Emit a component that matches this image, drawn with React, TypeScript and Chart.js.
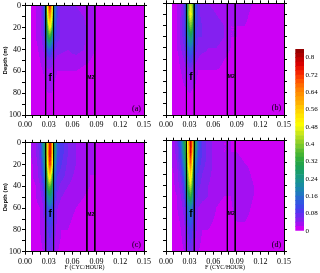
import React, { useEffect, useRef } from 'react';
import { Chart, registerables } from 'chart.js';
Chart.register(...registerables);

// ---------- data ----------
const FREQS = [0.0075, 0.014, 0.019, 0.023, 0.026, 0.029, 0.0315, 0.034, 0.037, 0.041, 0.046, 0.054, 0.064, 0.074, 0.082, 0.09, 0.1, 0.115, 0.13, 0.15];
const DEPTHS = [0, 10, 20, 30, 40, 50, 60, 80, 100];

const PANEL_A = [
  [0.015, 0.02, 0.03, 0.08, 0.22, 0.6, 0.8, 0.55, 0.2, 0.09, 0.05, 0.04, 0.04, 0.03, 0.025, 0.02, 0.015, 0.01, 0.01, 0.01],
  [0.015, 0.02, 0.03, 0.07, 0.2, 0.52, 0.64, 0.48, 0.18, 0.08, 0.05, 0.045, 0.05, 0.04, 0.03, 0.02, 0.015, 0.01, 0.01, 0.01],
  [0.01, 0.02, 0.03, 0.06, 0.16, 0.4, 0.5, 0.38, 0.14, 0.07, 0.055, 0.05, 0.06, 0.045, 0.03, 0.02, 0.015, 0.01, 0.01, 0.01],
  [0.01, 0.02, 0.03, 0.05, 0.12, 0.28, 0.32, 0.22, 0.1, 0.065, 0.055, 0.05, 0.06, 0.045, 0.03, 0.02, 0.015, 0.01, 0.01, 0.01],
  [0.01, 0.015, 0.025, 0.04, 0.07, 0.13, 0.14, 0.1, 0.065, 0.05, 0.045, 0.04, 0.05, 0.04, 0.025, 0.02, 0.01, 0.01, 0.01, 0.01],
  [0.01, 0.01, 0.02, 0.03, 0.04, 0.06, 0.06, 0.05, 0.04, 0.03, 0.03, 0.03, 0.03, 0.025, 0.02, 0.015, 0.01, 0.01, 0.01, 0.01],
  [0.01, 0.01, 0.015, 0.02, 0.03, 0.035, 0.035, 0.03, 0.025, 0.02, 0.02, 0.02, 0.02, 0.015, 0.015, 0.01, 0.01, 0.01, 0.01, 0.01],
  [0.01, 0.01, 0.01, 0.01, 0.015, 0.02, 0.02, 0.02, 0.015, 0.01, 0.01, 0.01, 0.01, 0.01, 0.01, 0.01, 0.01, 0.01, 0.01, 0.01],
  [0.01, 0.01, 0.01, 0.01, 0.01, 0.01, 0.01, 0.01, 0.01, 0.01, 0.01, 0.01, 0.01, 0.01, 0.01, 0.01, 0.01, 0.01, 0.01, 0.01],
];

const PANEL_B = [
  [0.015, 0.02, 0.03, 0.07, 0.18, 0.4, 0.46, 0.38, 0.15, 0.07, 0.05, 0.04, 0.03, 0.025, 0.02, 0.03, 0.03, 0.015, 0.01, 0.01],
  [0.015, 0.02, 0.04, 0.08, 0.18, 0.42, 0.5, 0.4, 0.15, 0.07, 0.05, 0.05, 0.04, 0.03, 0.02, 0.025, 0.025, 0.01, 0.01, 0.01],
  [0.01, 0.02, 0.05, 0.08, 0.15, 0.34, 0.4, 0.32, 0.12, 0.07, 0.06, 0.05, 0.05, 0.04, 0.02, 0.02, 0.02, 0.01, 0.01, 0.01],
  [0.01, 0.02, 0.05, 0.07, 0.12, 0.24, 0.28, 0.22, 0.1, 0.06, 0.06, 0.05, 0.05, 0.04, 0.02, 0.02, 0.015, 0.01, 0.01, 0.01],
  [0.01, 0.02, 0.04, 0.06, 0.09, 0.14, 0.16, 0.13, 0.08, 0.05, 0.05, 0.04, 0.04, 0.03, 0.02, 0.015, 0.01, 0.01, 0.01, 0.01],
  [0.01, 0.01, 0.03, 0.04, 0.06, 0.09, 0.1, 0.08, 0.05, 0.04, 0.03, 0.03, 0.03, 0.02, 0.015, 0.01, 0.01, 0.01, 0.01, 0.01],
  [0.01, 0.01, 0.02, 0.03, 0.04, 0.05, 0.05, 0.04, 0.03, 0.02, 0.02, 0.02, 0.02, 0.015, 0.01, 0.01, 0.01, 0.01, 0.01, 0.01],
  [0.01, 0.01, 0.01, 0.015, 0.015, 0.02, 0.02, 0.015, 0.015, 0.01, 0.01, 0.01, 0.01, 0.01, 0.01, 0.01, 0.01, 0.01, 0.01, 0.01],
  [0.01, 0.01, 0.01, 0.01, 0.01, 0.01, 0.01, 0.01, 0.01, 0.01, 0.01, 0.01, 0.01, 0.01, 0.01, 0.01, 0.01, 0.01, 0.01, 0.01],
];

const PANEL_C = [
  [0.02, 0.04, 0.08, 0.22, 0.35, 0.6, 0.8, 0.62, 0.3, 0.12, 0.09, 0.06, 0.04, 0.03, 0.025, 0.02, 0.015, 0.01, 0.01, 0.01],
  [0.02, 0.04, 0.07, 0.2, 0.32, 0.62, 0.8, 0.62, 0.28, 0.12, 0.09, 0.06, 0.04, 0.03, 0.025, 0.02, 0.015, 0.01, 0.01, 0.01],
  [0.015, 0.03, 0.06, 0.16, 0.28, 0.55, 0.76, 0.55, 0.22, 0.1, 0.08, 0.055, 0.04, 0.03, 0.025, 0.02, 0.015, 0.01, 0.01, 0.01],
  [0.015, 0.03, 0.05, 0.12, 0.22, 0.45, 0.56, 0.4, 0.16, 0.08, 0.07, 0.05, 0.035, 0.03, 0.02, 0.02, 0.015, 0.01, 0.01, 0.01],
  [0.01, 0.02, 0.04, 0.08, 0.16, 0.35, 0.38, 0.3, 0.13, 0.07, 0.05, 0.04, 0.03, 0.025, 0.02, 0.015, 0.01, 0.01, 0.01, 0.01],
  [0.01, 0.02, 0.03, 0.05, 0.12, 0.22, 0.26, 0.2, 0.1, 0.05, 0.04, 0.03, 0.025, 0.02, 0.015, 0.015, 0.01, 0.01, 0.01, 0.01],
  [0.01, 0.015, 0.02, 0.04, 0.09, 0.12, 0.14, 0.12, 0.07, 0.04, 0.03, 0.025, 0.02, 0.015, 0.01, 0.01, 0.01, 0.01, 0.01, 0.01],
  [0.01, 0.01, 0.02, 0.03, 0.06, 0.08, 0.09, 0.08, 0.05, 0.03, 0.02, 0.02, 0.015, 0.01, 0.01, 0.01, 0.01, 0.01, 0.01, 0.01],
  [0.01, 0.01, 0.015, 0.02, 0.05, 0.06, 0.07, 0.06, 0.04, 0.02, 0.015, 0.01, 0.01, 0.01, 0.01, 0.01, 0.01, 0.01, 0.01, 0.01],
];

const PANEL_D = [
  [0.02, 0.05, 0.14, 0.3, 0.38, 0.62, 0.82, 0.6, 0.32, 0.14, 0.08, 0.05, 0.03, 0.02, 0.02, 0.015, 0.01, 0.01, 0.01, 0.01],
  [0.02, 0.05, 0.12, 0.26, 0.36, 0.6, 0.8, 0.55, 0.28, 0.12, 0.08, 0.05, 0.03, 0.02, 0.02, 0.02, 0.015, 0.01, 0.01, 0.01],
  [0.02, 0.04, 0.09, 0.2, 0.32, 0.55, 0.7, 0.45, 0.2, 0.1, 0.07, 0.05, 0.03, 0.025, 0.02, 0.025, 0.02, 0.01, 0.01, 0.01],
  [0.015, 0.03, 0.07, 0.14, 0.28, 0.46, 0.56, 0.38, 0.15, 0.08, 0.06, 0.045, 0.03, 0.025, 0.025, 0.03, 0.03, 0.01, 0.01, 0.01],
  [0.01, 0.03, 0.05, 0.1, 0.24, 0.4, 0.46, 0.32, 0.12, 0.07, 0.05, 0.04, 0.03, 0.02, 0.025, 0.035, 0.035, 0.015, 0.01, 0.01],
  [0.01, 0.02, 0.04, 0.07, 0.18, 0.3, 0.34, 0.24, 0.1, 0.05, 0.045, 0.04, 0.025, 0.02, 0.02, 0.035, 0.035, 0.015, 0.01, 0.01],
  [0.01, 0.02, 0.03, 0.05, 0.1, 0.18, 0.2, 0.14, 0.07, 0.04, 0.035, 0.03, 0.02, 0.015, 0.015, 0.03, 0.03, 0.01, 0.01, 0.01],
  [0.01, 0.01, 0.02, 0.03, 0.06, 0.09, 0.1, 0.08, 0.05, 0.03, 0.02, 0.02, 0.015, 0.01, 0.01, 0.015, 0.015, 0.01, 0.01, 0.01],
  [0.01, 0.01, 0.015, 0.02, 0.04, 0.06, 0.07, 0.05, 0.03, 0.02, 0.015, 0.01, 0.01, 0.01, 0.01, 0.01, 0.01, 0.01, 0.01, 0.01],
];

const F_LINES = [0.026, 0.036];
const M2_LINES = [0.078, 0.088];
const F_LABEL = { text: 'f', x: 0.0318, y: 66 };
const M2_LABEL = { text: 'M2', x: 0.083, y: 66 };
const PANEL_LETTERS = ['(a)', '(b)', '(c)', '(d)'];
const PANEL_LETTER_POS = { x: 0.1405, y: 94 };

const X_TICKS = [0, 0.01, 0.02, 0.03, 0.04, 0.05, 0.06, 0.07, 0.08, 0.09, 0.1, 0.11, 0.12, 0.13, 0.14, 0.15];
const X_TICK_LABELS = ['0.00', '0.03', '0.06', '0.09', '0.12', '0.15'];
const Y_TICKS = [0, 10, 20, 30, 40, 50, 60, 70, 80, 90, 100];
const Y_TICK_LABELS = ['0', '20', '40', '60', '80', '100'];
const X_TITLE = 'F (CYC/HOUR)';
const Y_TITLE = 'Depth (m)';

const CB_TICKS = [0, 0.08, 0.16, 0.24, 0.32, 0.4, 0.48, 0.56, 0.64, 0.72, 0.8];
const CB_TICK_LABELS = ['0', '0.08', '0.16', '0.24', '0.32', '0.4', '0.48', '0.56', '0.64', '0.72', '0.8'];
const LEVEL_STEP = 0.02;
const LEVEL_COLORS = [
  '#cc00f5', '#a410f2', '#8420f0', '#6a2cf0', '#5038f0', '#3c48ea', '#3058e0', '#2868d0',
  '#2078c0', '#1a84b0', '#188ca0', '#189490', '#189880', '#189c6c', '#1ca058', '#24a448',
  '#30ac3c', '#44b434', '#5cbc30', '#78c82c', '#94d028', '#b0dc20', '#cce818', '#e8f410',
  '#fcfc00', '#fff000', '#ffe400', '#ffd400', '#ffc400', '#ffb000', '#ffa000', '#ff9000',
  '#ff8000', '#ff6c00', '#ff5400', '#fc3c00', '#f42400', '#e81000', '#d80000', '#c40000',
  '#ac0000', '#960000',
];

const SERIF = 'Liberation Serif';

// ---------- helpers ----------
function hexToRgb(h: string) {
  const n = parseInt(h.slice(1), 16);
  return [(n >> 16) & 255, (n >> 8) & 255, n & 255];
}
const LEVEL_RGB = LEVEL_COLORS.map(hexToRgb);

function bracket(arr: number[], v: number) {
  let i = 0;
  while (i < arr.length - 2 && v > arr[i + 1]) i++;
  const t = Math.max(0, Math.min(1, (v - arr[i]) / (arr[i + 1] - arr[i])));
  return [i, t];
}

function heatPlugin(grid: number[][]) {
  return {
    id: 'heat',
    beforeDraw(chart: any) {
      const { ctx, chartArea, scales } = chart;
      const xs = scales.x, ys = scales.y;
      const x0 = Math.round(chartArea.left), y0 = Math.round(chartArea.top);
      const w = Math.round(chartArea.right) - x0, h = Math.round(chartArea.bottom) - y0;
      const off = document.createElement('canvas');
      off.width = w; off.height = h;
      const octx = off.getContext('2d')!;
      const img = octx.createImageData(w, h);
      for (let py = 0; py < h; py++) {
        const d = ys.getValueForPixel(y0 + py + 0.5);
        const [j, u] = bracket(DEPTHS, d);
        for (let px = 0; px < w; px++) {
          const f = xs.getValueForPixel(x0 + px + 0.5);
          if (f < FREQS[0] || f > FREQS[FREQS.length - 1]) continue;
          const [i, t] = bracket(FREQS, f);
          const v =
            grid[j][i] * (1 - t) * (1 - u) + grid[j][i + 1] * t * (1 - u) +
            grid[j + 1][i] * (1 - t) * u + grid[j + 1][i + 1] * t * u;
          const k = Math.max(0, Math.min(LEVEL_RGB.length - 1, Math.floor(v / LEVEL_STEP)));
          const c = LEVEL_RGB[k];
          const o = (py * w + px) * 4;
          img.data[o] = c[0]; img.data[o + 1] = c[1]; img.data[o + 2] = c[2]; img.data[o + 3] = 255;
        }
      }
      octx.putImageData(img, 0, 0);
      ctx.drawImage(off, x0, y0);
    },
  };
}

function labelPlugin(letter: string) {
  return {
    id: 'labels',
    afterDatasetsDraw(chart: any) {
      const { ctx, scales } = chart;
      const xs = scales.x, ys = scales.y;
      ctx.save();
      ctx.fillStyle = '#000';
      ctx.textAlign = 'center';
      ctx.textBaseline = 'middle';
      ctx.font = 'bold 10px "Liberation Sans"';
      ctx.fillText(F_LABEL.text, xs.getPixelForValue(F_LABEL.x), ys.getPixelForValue(F_LABEL.y));
      ctx.font = 'bold 5px "Liberation Sans"';
      ctx.fillText(M2_LABEL.text, xs.getPixelForValue(M2_LABEL.x), ys.getPixelForValue(M2_LABEL.y));
      ctx.font = `8px "${SERIF}"`;
      ctx.fillText(letter, xs.getPixelForValue(PANEL_LETTER_POS.x), ys.getPixelForValue(PANEL_LETTER_POS.y));
      ctx.restore();
    },
  };
}

const gridOpts = { drawOnChartArea: false, drawTicks: true, tickLength: 3, color: '#000', lineWidth: 1 };
const borderOpts = { display: true, color: '#000', width: 1 };

function panelConfig(grid: number[][], letter: string, showY: boolean, showXTitle: boolean, box: any): any {
  const lineDs = (f: number) => ({
    data: [{ x: f, y: DEPTHS[0] }, { x: f, y: DEPTHS[DEPTHS.length - 1] }],
    showLine: true,
    borderColor: '#000',
    borderWidth: 1,
    pointRadius: 0,
    fill: false,
  });
  const xTicksSet = (s: any) => { s.ticks = X_TICKS.map((v) => ({ value: v })); };
  const yTicksSet = (s: any) => { s.ticks = Y_TICKS.map((v) => ({ value: v })); };
  return {
    type: 'scatter',
    data: { datasets: [...F_LINES, ...M2_LINES].map(lineDs) },
    options: {
      responsive: false,
      animation: false,
      devicePixelRatio: 1,
      events: [],
      layout: { autoPadding: false, padding: { left: 0, top: 0, right: box.padR, bottom: 0 } },
      plugins: { legend: { display: false }, tooltip: { enabled: false } },
      scales: {
        x: {
          type: 'linear', position: 'bottom', min: 0, max: 0.15, z: 1,
          afterBuildTicks: xTicksSet,
          afterFit: (s: any) => { s.height = box.xH; },
          grid: gridOpts, border: borderOpts,
          ticks: {
            autoSkip: false, maxRotation: 0, minRotation: 0, padding: 2, color: '#000',
            font: { family: SERIF, size: 8 },
            callback: (_v: any, i: number) => (i % 3 === 0 ? X_TICK_LABELS[i / 3] : ''),
          },
          title: showXTitle
            ? { display: true, text: X_TITLE, color: '#000', font: { family: SERIF, size: 6 }, padding: { top: 0, bottom: 2 } }
            : { display: false },
        },
        x2: {
          type: 'linear', position: 'top', min: 0, max: 0.15, display: true, z: 1,
          afterBuildTicks: xTicksSet,
          afterFit: (s: any) => { s.height = box.x2H; },
          grid: gridOpts, border: borderOpts,
          ticks: { display: false, autoSkip: false },
        },
        y: {
          type: 'linear', position: 'left', min: 0, max: 100, reverse: true, z: 1,
          afterBuildTicks: yTicksSet,
          afterFit: (s: any) => { s.width = box.yW; },
          grid: gridOpts, border: borderOpts,
          ticks: {
            display: showY, autoSkip: false, padding: 1, color: '#000',
            font: { family: SERIF, size: 8 },
            callback: (_v: any, i: number) => (i % 2 === 0 ? Y_TICK_LABELS[i / 2] : ''),
          },
          title: showY
            ? { display: true, text: Y_TITLE, color: '#000', font: { family: 'Liberation Sans', size: 6, weight: 'bold' }, padding: { top: 1.5, bottom: 0 } }
            : { display: false },
        },
        y2: {
          type: 'linear', position: 'right', min: 0, max: 100, reverse: true, display: true, z: 1,
          afterBuildTicks: yTicksSet,
          afterFit: (s: any) => { s.width = box.y2W; },
          grid: gridOpts, border: borderOpts,
          ticks: { display: false, autoSkip: false },
        },
      },
    },
    plugins: [heatPlugin(grid), labelPlugin(letter)],
  };
}

function colorbarConfig(): any {
  return {
    type: 'bar',
    data: {
      labels: [''],
      datasets: LEVEL_COLORS.map((c, i) => ({
        data: [[i * LEVEL_STEP, (i + 1) * LEVEL_STEP]],
        backgroundColor: c,
        borderWidth: 0,
        barPercentage: 1,
        categoryPercentage: 1,
        grouped: false,
      })),
    },
    options: {
      responsive: false,
      animation: false,
      devicePixelRatio: 1,
      events: [],
      layout: { autoPadding: false, padding: { left: 7.3, top: 9, right: 0, bottom: 9.3 } },
      plugins: { legend: { display: false }, tooltip: { enabled: false } },
      scales: {
        x: { display: false },
        y: {
          position: 'right', min: 0, max: LEVEL_STEP * LEVEL_COLORS.length,
          afterBuildTicks: (s: any) => { s.ticks = CB_TICKS.map((v) => ({ value: v })); },
          afterFit: (s: any) => { s.width = 16; },
          grid: { display: false, drawTicks: false },
          border: { display: false },
          ticks: {
            autoSkip: false, padding: 1.5, color: '#000',
            font: { family: SERIF, size: 7 },
            callback: (_v: any, i: number) => CB_TICK_LABELS[i],
          },
        },
      },
    },
  };
}

function ChartBox({ left, top, width, height, make }: any) {
  const ref = useRef<HTMLCanvasElement>(null);
  useEffect(() => {
    const chart = new Chart(ref.current!, make());
    return () => chart.destroy();
  }, []);
  return (
    <div style={{ position: 'absolute', left, top, width, height }}>
      <canvas ref={ref} width={width} height={height} style={{ display: 'block' }} />
    </div>
  );
}

export default function App() {
  const boxTop = { x2H: 3.3, xH: 20, y2W: 4, padR: 12 };
  const boxBot = { x2H: 3.7, xH: 21.3, y2W: 4, padR: 12 };
  return (
    <div style={{ position: 'fixed', left: 0, top: 0, width: 320, height: 273, background: '#fff', overflow: 'hidden' }}>
      <ChartBox left={0} top={0} width={160} height={135}
        make={() => panelConfig(PANEL_A, PANEL_LETTERS[0], true, false, { ...boxTop, yW: 25 })} />
      <ChartBox left={146} top={0} width={154} height={135}
        make={() => panelConfig(PANEL_B, PANEL_LETTERS[1], false, false, { ...boxTop, yW: 20 })} />
      <ChartBox left={0} top={137} width={160} height={136}
        make={() => panelConfig(PANEL_C, PANEL_LETTERS[2], true, true, { ...boxBot, yW: 25 })} />
      <ChartBox left={146} top={137} width={154} height={136}
        make={() => panelConfig(PANEL_D, PANEL_LETTERS[3], false, true, { ...boxBot, yW: 20 })} />
      <ChartBox left={288} top={40} width={32} height={200} make={colorbarConfig} />
    </div>
  );
}
